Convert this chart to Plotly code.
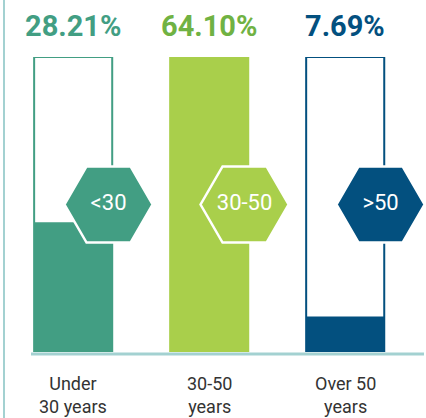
import plotly.graph_objects as go

# age groups, badge text and share of employees (%)
categories = ["Under<br>30 years", "30-50<br>years", "Over 50<br>years"]
badges = ["<30", "30-50", ">50"]
shares = [28.21, 64.10, 7.69]

bar_colors = ["#429e83", "#a9cf4b", "#03507f"]
text_colors = ["#429e83", "#70b243", "#03507f"]
rule_color = "#a3d1d1"
font = "Roboto"

xs = list(range(len(categories)))
top = max(shares)
bar_w = 0.574


def esc(s):
    return s.replace("<", "&lt;").replace(">", "&gt;")


fig = go.Figure()

# empty outline box for every group
fig.add_trace(go.Bar(
    x=xs, y=[top] * len(xs), width=bar_w,
    marker=dict(color="white", line=dict(color=bar_colors, width=2)),
    hoverinfo="skip",
))

# filled part = actual share
fig.add_trace(go.Bar(
    x=xs, y=shares, width=bar_w,
    marker=dict(color=bar_colors, line=dict(width=0)),
))

# hexagon badges sitting on the right edge of each box
fig.add_trace(go.Scatter(
    x=[x + 0.26 for x in xs], y=[top / 2] * len(xs),
    mode="markers+text",
    marker=dict(symbol="hexagon2", size=88, color=bar_colors,
                line=dict(color="white", width=2.5)),
    text=[esc(b) for b in badges],
    textposition="middle center",
    textfont=dict(family=font, size=22, color="white"),
    cliponaxis=False,
    hoverinfo="skip",
))

# percentage headers
for x, v, c in zip(xs, shares, text_colors):
    fig.add_annotation(x=x, y=top, text="<b>%.2f%%</b>" % v,
                       showarrow=False, yanchor="bottom", yshift=12,
                       font=dict(family=font, size=29, color=c))

# category labels under the baseline
for x, cat in zip(xs, categories):
    fig.add_annotation(x=x, y=0, text=cat, showarrow=False,
                       yanchor="top", yshift=-19,
                       font=dict(family=font, size=18, color="#333333"))

# left rule and baseline
fig.add_shape(type="line", xref="paper", yref="paper",
              x0=4 / 426, x1=4 / 426, y0=-66 / 295, y1=1 + 57 / 295,
              line=dict(color=rule_color, width=2))
fig.add_shape(type="line", xref="paper", yref="paper", layer="above",
              x0=31 / 426, x1=424 / 426, y0=-2 / 295, y1=-2 / 295,
              line=dict(color=rule_color, width=3))

fig.update_layout(
    width=426, height=418,
    margin=dict(l=0, r=0, t=57, b=66),
    barmode="overlay",
    showlegend=False,
    plot_bgcolor="white", paper_bgcolor="white",
    xaxis=dict(range=[-0.538, 2.594], visible=False, fixedrange=True),
    yaxis=dict(range=[0, top], visible=False, fixedrange=True),
)

fig.write_html("out.html", config={"displayModeBar": False},
               post_script="document.body.style.margin='0';")
